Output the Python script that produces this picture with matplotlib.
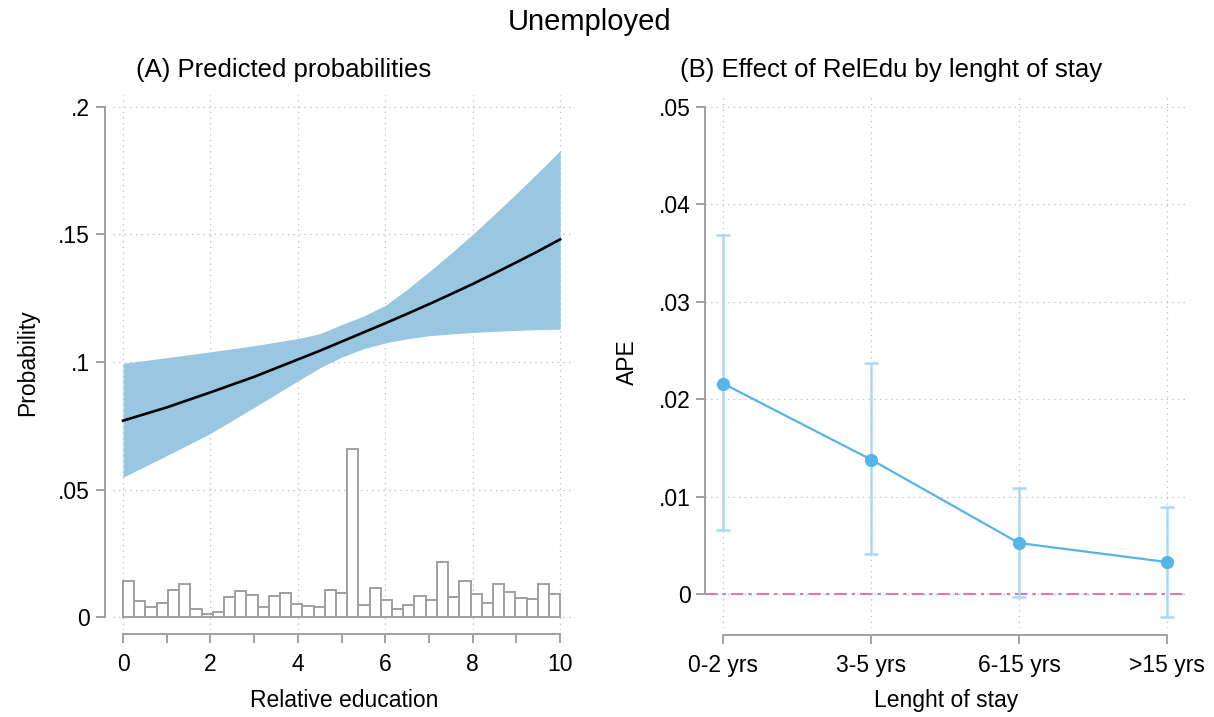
import numpy as np
import matplotlib
matplotlib.use("Agg")
import matplotlib.pyplot as plt

plt.rcParams['font.family'] = ['Liberation Sans', 'DejaVu Sans']

# panel A: predicted probability over relative education
edu = [0, 1, 2, 3, 4, 4.5, 5, 5.5, 6, 6.5, 7, 7.5, 8, 8.5, 9, 9.5, 10]
prob = [0.0770, 0.0822, 0.0881, 0.0942, 0.1010, 0.1044, 0.1080, 0.1116,
        0.1152, 0.1189, 0.1227, 0.1266, 0.1306, 0.1348, 0.1391, 0.1435,
        0.1481]
prob_lo = [0.0548, 0.0633, 0.0720, 0.0822, 0.0926, 0.0977, 0.1019, 0.1052,
           0.1075, 0.1091, 0.1103, 0.1110, 0.1116, 0.1120, 0.1124, 0.1127,
           0.1129]
prob_hi = [0.0995, 0.1017, 0.1040, 0.1064, 0.1092, 0.1111, 0.1147, 0.1180,
           0.1222, 0.1285, 0.1354, 0.1426, 0.1501, 0.1580, 0.1661, 0.1744,
           0.1829]

# distribution of relative education (39 bins over 0-10)
hist_heights = [0.0140, 0.0063, 0.0038, 0.0054, 0.0105, 0.0128, 0.0030,
                0.0013, 0.0021, 0.0077, 0.0102, 0.0085, 0.0041, 0.0081,
                0.0093, 0.0050, 0.0043, 0.0039, 0.0107, 0.0093, 0.0660,
                0.0046, 0.0114, 0.0067, 0.0030, 0.0047, 0.0082, 0.0068,
                0.0214, 0.0080, 0.0141, 0.0089, 0.0056, 0.0128, 0.0099,
                0.0076, 0.0069, 0.0129, 0.0091]

yticks_a = [0, 0.05, 0.1, 0.15, 0.2]
yticklabels_a = ['0', '.05', '.1', '.15', '.2']

# panel B: average partial effect by length of stay
stay = ['0-2 yrs', '3-5 yrs', '6-15 yrs', '>15 yrs']
ape = [0.0216, 0.0138, 0.00523, 0.00328]
ape_lo = [0.0066, 0.0041, -0.00034, -0.00232]
ape_hi = [0.0368, 0.0237, 0.01084, 0.00892]

yticks_b = [0, 0.01, 0.02, 0.03, 0.04, 0.05]
yticklabels_b = ['0', '.01', '.02', '.03', '.04', '.05']

AXIS_GRAY = '#a0a0a0'
GRID_GRAY = '#bdbdbd'
BAND = '#99c7e1'
LINE_B = '#56b4e9'
CI_B = '#a8daf4'
ZERO = '#d97bab'


def style_axes(ax):
    for s in ['top', 'right']:
        ax.spines[s].set_visible(False)
    for s in ['left', 'bottom']:
        ax.spines[s].set_color(AXIS_GRAY)
        ax.spines[s].set_linewidth(1.4)
    ax.tick_params(which='both', colors=AXIS_GRAY, width=1.4, length=6.5,
                   labelcolor='black', labelsize=16.5)
    ax.tick_params(axis='x', pad=7)
    ax.tick_params(axis='y', pad=4)
    ax.grid(True, which='major', color=GRID_GRAY, linestyle=(0, (1, 3.5)),
            linewidth=0.9)
    ax.set_axisbelow(True)


fig = plt.figure(figsize=(12.14, 7.17), dpi=100)

# ---- panel A
ax1 = fig.add_axes([0.0931, 0.1213, 0.3806, 0.7462])
style_axes(ax1)
ax1.fill_between(edu, prob_lo, prob_hi, color=BAND, linewidth=0, zorder=2)
ax1.plot(edu, prob, color='black', linewidth=1.9, zorder=3)
edges = np.linspace(0, 10, len(hist_heights) + 1)
ax1.bar(edges[:-1], hist_heights, width=np.diff(edges), align='edge',
        facecolor='white', edgecolor=AXIS_GRAY, linewidth=1.4, zorder=2)
ax1.set_xlim(-0.229, 10.34)
ax1.set_ylim(-0.0051, 0.2047)
ax1.set_xticks(range(0, 11, 2))
ax1.set_xticks(range(1, 11, 2), minor=True)
ax1.set_yticks(yticks_a)
ax1.set_yticklabels(yticklabels_a)
ax1.spines['left'].set_position(('outward', 6))
ax1.spines['bottom'].set_position(('outward', 3.2))
ax1.spines['left'].set_bounds(0, 0.2)
ax1.spines['bottom'].set_bounds(0, 10)
ax1.set_xlabel('Relative education', fontsize=16.5, labelpad=9)
ax1.set_ylabel('Probability', fontsize=16.5, labelpad=14)

# ---- panel B
ax2 = fig.add_axes([0.5807, 0.1241, 0.397, 0.7406])
style_axes(ax2)
xs = np.arange(len(stay))
ax2.axhline(0, color=ZERO, linewidth=1.5, dashes=(6, 2.4, 1.6, 2.4),
            zorder=2)
ax2.errorbar(xs, ape,
             yerr=[np.subtract(ape, ape_lo), np.subtract(ape_hi, ape)],
             fmt='none', ecolor=CI_B, elinewidth=1.8, capsize=5,
             capthick=1.8, zorder=3)
ax2.plot(xs, ape, color=LINE_B, linewidth=1.6, marker='o', markersize=8.5,
         zorder=4)
ax2.set_xlim(-0.122, 3.135)
ax2.set_ylim(-0.00349, 0.051)
ax2.set_xticks(xs)
ax2.set_xticklabels(stay)
ax2.set_yticks(yticks_b)
ax2.set_yticklabels(yticklabels_b)
ax2.spines['bottom'].set_position(('outward', 5))
ax2.spines['left'].set_bounds(0, 0.05)
ax2.spines['bottom'].set_bounds(0, 3)
ax2.set_xlabel('Lenght of stay', fontsize=16.5, labelpad=9)
ax2.set_ylabel('APE', fontsize=16.5, labelpad=14)

# titles
fig.text(0.486, 0.969, 'Unemployed', fontsize=21, ha='center', va='center')
fig.text(0.2335, 0.902, '(A) Predicted probabilities', fontsize=18.5,
         ha='center', va='center')
fig.text(0.734, 0.902, '(B) Effect of RelEdu by lenght of stay',
         fontsize=18.5, ha='center', va='center')

fig.savefig('out.png', dpi=100)
